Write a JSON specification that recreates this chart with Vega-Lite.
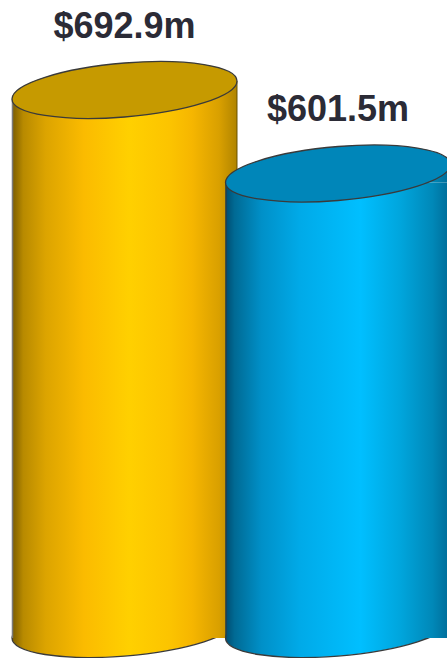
{
  "$schema": "https://vega.github.io/schema/vega-lite/v6.json",
  "width": 447,
  "height": 658,
  "padding": 0,
  "autosize": {"type": "none"},
  "background": "white",
  "config": {"view": {"stroke": null}},
  "data": {"values": [
    {"bar": "A", "value": 692.9, "label": "$692.9m"},
    {"bar": "B", "value": 601.5, "label": "$601.5m"}
  ]},
  "encoding": {
    "x": {"field": "bar", "type": "nominal", "axis": null, "scale": {"type": "point", "domain": ["A", "B"], "padding": 0.5468, "align": 0.5332}},
    "y": {"field": "value", "type": "quantitative", "axis": null, "scale": {"domain": [71.2, 791.4], "zero": false, "nice": false}}
  },
  "layer": [
    {
      "transform": [{"filter": "datum.bar === 'A'"}],
      "layer": [
        {
          "mark": {"type": "point", "filled": true, "opacity": 1, "size": 50625,
            "shape": "M 1 -0.08 C 1 0.0526 0.5523 0.1958 0 0.24 C -0.5523 0.2842 -1 0.2126 -1 0.08 C -1 -0.0526 -0.5523 -0.1958 0 -0.24 C 0.5523 -0.2842 1 -0.2126 1 -0.08 Z",
            "stroke": "#3a3a3a", "strokeWidth": 1.3,
            "fill": {"gradient": "linear", "x1": 0, "y1": 0, "x2": 1, "y2": 0, "stops": [
              {"offset": 0, "color": "#7a5c00"}, {"offset": 0.05, "color": "#b88a00"}, {"offset": 0.15, "color": "#dca400"},
              {"offset": 0.32, "color": "#fbbb00"}, {"offset": 0.52, "color": "#ffd000"}, {"offset": 0.7, "color": "#fcc400"},
              {"offset": 0.8, "color": "#f6b600"}, {"offset": 0.92, "color": "#d9a000"}, {"offset": 1, "color": "#b08400"}]}},
          "encoding": {"y": {"datum": 102.9}}
        },
        {
          "mark": {"type": "bar", "width": 225, "yOffset": 9, "y2Offset": 9,
            "fill": {"gradient": "linear", "x1": 0, "y1": 0, "x2": 1, "y2": 0, "stops": [
              {"offset": 0, "color": "#7a5c00"}, {"offset": 0.05, "color": "#b88a00"}, {"offset": 0.15, "color": "#dca400"},
              {"offset": 0.32, "color": "#fbbb00"}, {"offset": 0.52, "color": "#ffd000"}, {"offset": 0.7, "color": "#fcc400"},
              {"offset": 0.8, "color": "#f6b600"}, {"offset": 0.92, "color": "#d9a000"}, {"offset": 1, "color": "#b08400"}]}},
          "encoding": {"y2": {"datum": 102.9}}
        },
        {
          "mark": {"type": "point", "filled": true, "opacity": 1, "size": 50625, "strokeWidth": 0,
            "shape": "M -1 0.08 L 1 -0.08 L 1 0.08 Z",
            "fill": {"gradient": "linear", "x1": 0, "y1": 0, "x2": 1, "y2": 0, "stops": [
              {"offset": 0, "color": "#7a5c00"}, {"offset": 0.05, "color": "#b88a00"}, {"offset": 0.15, "color": "#dca400"},
              {"offset": 0.32, "color": "#fbbb00"}, {"offset": 0.52, "color": "#ffd000"}, {"offset": 0.7, "color": "#fcc400"},
              {"offset": 0.8, "color": "#f6b600"}, {"offset": 0.92, "color": "#d9a000"}, {"offset": 1, "color": "#b08400"}]}},
          "encoding": {}
        },
        {
          "mark": {"type": "rule", "xOffset": -112, "yOffset": 9, "y2Offset": 9, "color": "#7a7a7a", "strokeWidth": 1.5},
          "encoding": {"y2": {"datum": 102.9}}
        },
        {
          "mark": {"type": "rule", "xOffset": 112.5, "yOffset": -9, "y2Offset": -9, "color": "#6a5200", "strokeWidth": 1},
          "encoding": {"y2": {"datum": 102.9}}
        },
        {
          "mark": {"type": "point", "filled": true, "opacity": 1, "size": 50625,
            "shape": "M 1 -0.08 C 1 0.0526 0.5523 0.1958 0 0.24 C -0.5523 0.2842 -1 0.2126 -1 0.08 C -1 -0.0526 -0.5523 -0.1958 0 -0.24 C 0.5523 -0.2842 1 -0.2126 1 -0.08 Z",
            "fill": "#c69a00", "stroke": "#3a3a3a", "strokeWidth": 1.3},
          "encoding": {}
        },
        {
          "mark": {"type": "text", "dy": -52, "baseline": "alphabetic", "align": "center", "font": "Liberation Sans", "fontWeight": "bold", "fontSize": 36, "color": "#2b2b36"},
          "encoding": {"text": {"field": "label"}}
        }
      ]
    },
    {
      "transform": [{"filter": "datum.bar === 'B'"}],
      "layer": [
        {
          "mark": {"type": "point", "filled": true, "opacity": 1, "size": 50625,
            "shape": "M 1 -0.08 C 1 0.0526 0.5523 0.1958 0 0.24 C -0.5523 0.2842 -1 0.2126 -1 0.08 C -1 -0.0526 -0.5523 -0.1958 0 -0.24 C 0.5523 -0.2842 1 -0.2126 1 -0.08 Z",
            "stroke": "#3a3a3a", "strokeWidth": 1.3,
            "fill": {"gradient": "linear", "x1": 0, "y1": 0, "x2": 1, "y2": 0, "stops": [
              {"offset": 0, "color": "#004c70"}, {"offset": 0.04, "color": "#006a94"}, {"offset": 0.16, "color": "#0090c8"},
              {"offset": 0.33, "color": "#00aae8"}, {"offset": 0.6, "color": "#00bfff"}, {"offset": 0.78, "color": "#00a5dc"},
              {"offset": 0.92, "color": "#0088b8"}, {"offset": 1, "color": "#006a96"}]}},
          "encoding": {"y": {"datum": 102.9}}
        },
        {
          "mark": {"type": "bar", "width": 225, "yOffset": 9, "y2Offset": 9,
            "fill": {"gradient": "linear", "x1": 0, "y1": 0, "x2": 1, "y2": 0, "stops": [
              {"offset": 0, "color": "#004c70"}, {"offset": 0.04, "color": "#006a94"}, {"offset": 0.16, "color": "#0090c8"},
              {"offset": 0.33, "color": "#00aae8"}, {"offset": 0.6, "color": "#00bfff"}, {"offset": 0.78, "color": "#00a5dc"},
              {"offset": 0.92, "color": "#0088b8"}, {"offset": 1, "color": "#006a96"}]}},
          "encoding": {"y2": {"datum": 102.9}}
        },
        {
          "mark": {"type": "point", "filled": true, "opacity": 1, "size": 50625, "strokeWidth": 0,
            "shape": "M -1 0.08 L 1 -0.08 L 1 0.08 Z",
            "fill": {"gradient": "linear", "x1": 0, "y1": 0, "x2": 1, "y2": 0, "stops": [
              {"offset": 0, "color": "#004c70"}, {"offset": 0.04, "color": "#006a94"}, {"offset": 0.16, "color": "#0090c8"},
              {"offset": 0.33, "color": "#00aae8"}, {"offset": 0.6, "color": "#00bfff"}, {"offset": 0.78, "color": "#00a5dc"},
              {"offset": 0.92, "color": "#0088b8"}, {"offset": 1, "color": "#006a96"}]}},
          "encoding": {}
        },
        {
          "mark": {"type": "rule", "xOffset": -112, "yOffset": 9, "y2Offset": 9, "color": "#2f3a40", "strokeWidth": 1.2},
          "encoding": {"y2": {"datum": 102.9}}
        },
        {
          "mark": {"type": "point", "filled": true, "opacity": 1, "size": 50625,
            "shape": "M 1 -0.08 C 1 0.0526 0.5523 0.1958 0 0.24 C -0.5523 0.2842 -1 0.2126 -1 0.08 C -1 -0.0526 -0.5523 -0.1958 0 -0.24 C 0.5523 -0.2842 1 -0.2126 1 -0.08 Z",
            "fill": "#0086b9", "stroke": "#3a3a3a", "strokeWidth": 1.3},
          "encoding": {}
        },
        {
          "mark": {"type": "text", "dy": -52, "baseline": "alphabetic", "align": "center", "font": "Liberation Sans", "fontWeight": "bold", "fontSize": 36, "color": "#2b2b36"},
          "encoding": {"text": {"field": "label"}}
        }
      ]
    }
  ]
}
